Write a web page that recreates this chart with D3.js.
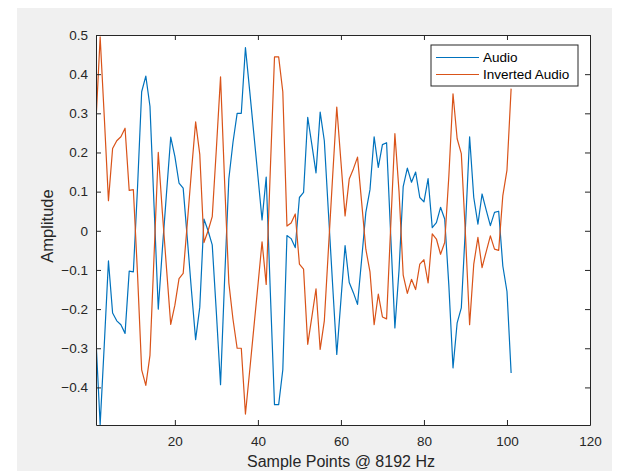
<!DOCTYPE html>
<html>
<head>
<meta charset="utf-8">
<script src="https://cdn.jsdelivr.net/npm/d3@7"></script>
<style>
  html, body { margin: 0; padding: 0; background: #ffffff; }
  svg { display: block; }
  text { font-family: "Liberation Sans", Arial, Helvetica, sans-serif; }
</style>
</head>
<body>
<svg id="chart" width="624" height="471"></svg>
<script>
// Audio samples (first 101 samples at 8192 Hz)
const audio = [
  -0.28, -0.495, -0.29, -0.077, -0.21, -0.23, -0.24, -0.262, -0.103, -0.105,
  0.11, 0.355, 0.395, 0.318, 0.06, -0.2, -0.045, 0.098, 0.239, 0.19,
  0.122, 0.109, -0.02, -0.153, -0.278, -0.195, 0.03, 0.0, -0.036, -0.21,
  -0.393, -0.12, 0.133, 0.226, 0.3, 0.3, 0.468, 0.36, 0.25, 0.14,
  0.028, 0.137, -0.158, -0.444, -0.444, -0.355, -0.012, -0.02, -0.043, 0.085,
  0.098, 0.29, 0.22, 0.148, 0.303, 0.23, 0.045, -0.138, -0.316, -0.177,
  -0.038, -0.132, -0.158, -0.188, -0.072, 0.047, 0.105, 0.24, 0.162, 0.22,
  0.225, -0.013, -0.248, -0.1, 0.113, 0.16, 0.124, 0.15, 0.085, 0.074,
  0.133, 0.008, 0.021, 0.06, 0.03, -0.14, -0.35, -0.235, -0.197, 0.01,
  0.24, 0.085, 0.017, 0.094, 0.053, 0.013, 0.047, 0.05, -0.09, -0.155,
  -0.363
];
// Phase-inverted copy of the signal
const invertedAudio = audio.map(v => -v);

const xTicks = [20, 40, 60, 80, 100, 120];
const yTicks = [-0.4, -0.3, -0.2, -0.1, 0, 0.1, 0.2, 0.3, 0.4, 0.5];
const seriesNames = ["Audio", "Inverted Audio"];
const seriesColors = ["#0072BD", "#D95319"];

const svg = d3.select("#chart");
const axisColor = "#262626";

// figure background
svg.append("rect").attr("x", 17).attr("y", 8).attr("width", 595).attr("height", 463)
  .attr("fill", "#f0f0f0");

const plotLeft = 96, plotRight = 590, plotTop = 35, plotBottom = 425;
const x = d3.scaleLinear().domain([1, 120]).range([plotLeft, plotRight]);
const y = d3.scaleLinear().domain([-0.496, 0.5]).range([plotBottom, plotTop]);

// axes area
svg.append("rect").attr("x", plotLeft).attr("y", plotTop)
  .attr("width", plotRight - plotLeft).attr("height", plotBottom - plotTop).attr("fill", "#ffffff");

// plotted lines
const line = d3.line().x((d, i) => x(i + 1)).y(d => y(d));
svg.append("clipPath").attr("id", "plotclip").append("rect")
  .attr("x", plotLeft).attr("y", plotTop)
  .attr("width", plotRight - plotLeft).attr("height", plotBottom - plotTop);

[audio, invertedAudio].forEach((s, k) => {
  svg.append("path").datum(s)
    .attr("d", line)
    .attr("fill", "none")
    .attr("stroke", seriesColors[k])
    .attr("stroke-width", 1.2)
    .attr("stroke-linejoin", "round")
    .attr("clip-path", "url(#plotclip)");
});

// axes with inward ticks on all four sides
function styleAxis(g) {
  g.selectAll("path.domain").attr("stroke", axisColor).attr("stroke-width", 1);
  g.selectAll(".tick line").attr("stroke", axisColor);
  g.selectAll(".tick text").attr("fill", axisColor).style("font-size", "13.5px")
    .style("font-family", "'Liberation Sans', Arial, sans-serif");
}

svg.append("g").attr("transform", `translate(0,${plotBottom})`)
  .call(d3.axisBottom(x).tickValues(xTicks).tickSizeInner(-5).tickSizeOuter(0).tickPadding(11)
    .tickFormat(d3.format("d")))
  .call(styleAxis);
svg.append("g").attr("transform", `translate(0,${plotTop})`)
  .call(d3.axisTop(x).tickValues(xTicks).tickSizeInner(-5).tickSizeOuter(0).tickFormat(""))
  .call(styleAxis);
svg.append("g").attr("transform", `translate(${plotLeft},0)`)
  .call(d3.axisLeft(y).tickValues(yTicks).tickSizeInner(-5).tickSizeOuter(0).tickPadding(8)
    .tickFormat(d => d === 0 ? "0" : d3.format(".1f")(d)))
  .call(styleAxis);
svg.append("g").attr("transform", `translate(${plotRight},0)`)
  .call(d3.axisRight(y).tickValues(yTicks).tickSizeInner(-5).tickSizeOuter(0).tickFormat(""))
  .call(styleAxis);

// axis titles
svg.append("text").attr("x", (plotLeft + plotRight) / 2 - 2).attr("y", 467)
  .attr("text-anchor", "middle").attr("fill", axisColor).style("font-size", "16px")
  .text("Sample Points @ 8192 Hz");
svg.append("text").attr("transform", `translate(53,${(plotTop + plotBottom) / 2 - 4}) rotate(-90)`)
  .attr("text-anchor", "middle").attr("fill", axisColor).style("font-size", "16.5px")
  .text("Amplitude");

// legend
const lg = svg.append("g").attr("transform", "translate(431,45)");
lg.append("rect").attr("width", 147).attr("height", 41)
  .attr("fill", "#ffffff").attr("stroke", axisColor).attr("stroke-width", 1);
seriesNames.forEach((name, k) => {
  const cy = 12.5 + k * 17;
  lg.append("line").attr("x1", 5).attr("x2", 48).attr("y1", cy).attr("y2", cy)
    .attr("stroke", seriesColors[k]).attr("stroke-width", 1.2);
  lg.append("text").attr("x", 52).attr("y", cy).attr("dy", "0.35em")
    .attr("fill", "#000").style("font-size", "13.5px").text(name);
});
</script>
</body>
</html>
